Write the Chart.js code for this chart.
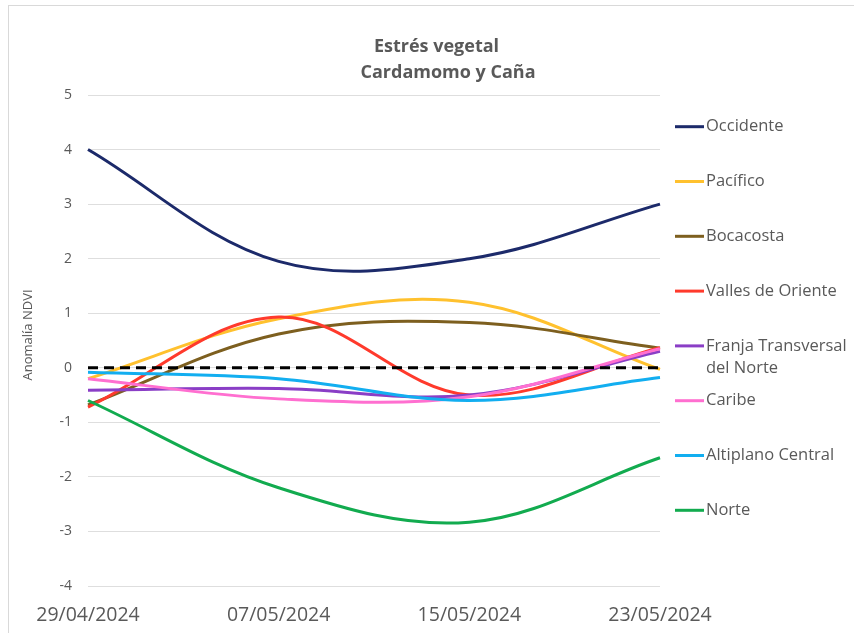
<!DOCTYPE html>
<html><head><meta charset="utf-8">
<script src="https://cdn.jsdelivr.net/npm/chart.js@4"></script>
<style>
html,body{margin:0;padding:0;background:#fff;overflow:hidden}
#wrap{position:relative;width:854px;height:633px;overflow:hidden}
#frame{position:absolute;left:8px;top:5px;width:900px;height:700px;border:1px solid #d9d9d9;box-sizing:border-box}
canvas{position:absolute;left:0;top:0}
</style></head><body>
<div id="wrap"><div id="frame"></div><canvas id="c" width="854" height="633"></canvas></div>
<script>
// ---- data ----
const titleLines = ['Estrés vegetal', 'Cardamomo y Caña'];
const yAxisTitle = 'Anomalía NDVI';
const dates = ['29/04/2024', '07/05/2024', '15/05/2024', '23/05/2024'];
const regions = ['Occidente', 'Pacífico', 'Bocacosta', 'Valles de Oriente',
  'Franja Transversal del Norte', 'Caribe', 'Altiplano Central', 'Norte'];
const occidente     = [4.0, 1.95, 2.0, 3.0];
const pacifico      = [-0.2, 0.9, 1.2, -0.03];
const bocacosta     = [-0.68, 0.62, 0.83, 0.36];
const vallesOriente = [-0.72, 0.93, -0.5, 0.37];
const franja        = [-0.41, -0.38, -0.5, 0.3];
const caribe        = [-0.2, -0.57, -0.53, 0.35];
const altiplano     = [-0.08, -0.2, -0.6, -0.18];
const norte         = [-0.6, -2.2, -2.83, -1.65];
const zeroLine      = [0, 0, 0, 0];
const yMin = -4, yMax = 5, yStep = 1;

// ---- styles ----
const seriesValues = [occidente, pacifico, bocacosta, vallesOriente, franja, caribe, altiplano, norte];
const colors = ['#1c2a6a', '#ffc12e', '#7d5f1f', '#ff3a2c', '#8a3ec6', '#ff6fd0', '#12aef0', '#12ab4f'];
const TXT = '#595959';
const FONT = "'Open Sans', sans-serif";

const datasets = seriesValues.map((vals, i) => ({
  label: regions[i],
  data: vals,
  borderColor: colors[i],
  backgroundColor: colors[i],
  borderWidth: 3,
  pointRadius: 0,
  tension: 0.36,
  fill: false,
  order: 100 - i
}));
datasets.push({
  label: 'cero',
  data: zeroLine,
  borderColor: '#000000',
  borderWidth: 3,
  borderDash: [10, 6],
  pointRadius: 0,
  tension: 0,
  fill: false,
  order: 0
});

const PLOT_LEFT = 88, PLOT_RIGHT = 660, PLOT_TOP = 95, PLOT_BOTTOM = 586;

const titlePlugin = {
  id: 'customTitle',
  afterDraw(chart) {
    const ctx = chart.ctx;
    ctx.save();
    ctx.fillStyle = TXT;
    ctx.font = "bold 18px " + FONT;
    ctx.textBaseline = 'alphabetic';
    ctx.textAlign = 'center';
    ctx.fillText(titleLines[0], 436.5, 51.5);
    ctx.fillText(titleLines[1], 448, 78);
    // y axis title
    ctx.font = "13px " + FONT;
    ctx.textBaseline = 'middle';
    ctx.translate(28, 335);
    ctx.rotate(-Math.PI / 2);
    ctx.fillText(yAxisTitle, 0, 0);
    ctx.restore();
  }
};

const legendPlugin = {
  id: 'customLegend',
  afterDraw(chart) {
    const ctx = chart.ctx;
    ctx.save();
    ctx.font = "16.5px " + FONT;
    ctx.textBaseline = 'middle';
    ctx.textAlign = 'left';
    const maxW = 150;
    regions.forEach((name, i) => {
      const y = 126.7 + i * 54.8;
      ctx.strokeStyle = colors[i];
      ctx.lineWidth = 3;
      ctx.beginPath();
      ctx.moveTo(675, y);
      ctx.lineTo(704, y);
      ctx.stroke();
      const words = name.split(' ');
      const lines = [];
      let cur = '';
      words.forEach(w => {
        const test = cur ? cur + ' ' + w : w;
        if (ctx.measureText(test).width > maxW && cur) { lines.push(cur); cur = w; }
        else cur = test;
      });
      lines.push(cur);
      ctx.fillStyle = TXT;
      lines.forEach((l, k) => ctx.fillText(l, 706, y + k * 22.5));
    });
    ctx.restore();
  }
};

new Chart(document.getElementById('c'), {
  type: 'line',
  data: { labels: dates, datasets },
  options: {
    responsive: false,
    animation: false,
    devicePixelRatio: 1,
    layout: { padding: { left: 0, top: PLOT_TOP, right: 854 - PLOT_RIGHT, bottom: 0 } },
    plugins: { legend: { display: false }, title: { display: false }, tooltip: { enabled: false } },
    scales: {
      x: {
        offset: false,
        grid: { display: false, drawTicks: false },
        border: { display: false },
        ticks: { color: TXT, font: { family: FONT, size: 19.5 }, padding: 18, maxRotation: 0, autoSkip: false },
        afterFit(s) { s.height = 633 - PLOT_BOTTOM; }
      },
      y: {
        min: yMin, max: yMax,
        grid: { color: '#dedede', lineWidth: 1, drawTicks: false },
        border: { display: false },
        ticks: { stepSize: yStep, color: TXT, font: { family: FONT, size: 14 }, padding: 16 },
        title: { display: false },
        afterFit(s) { s.width = PLOT_LEFT; }
      }
    }
  },
  plugins: [titlePlugin, legendPlugin]
});
</script>
</body></html>
